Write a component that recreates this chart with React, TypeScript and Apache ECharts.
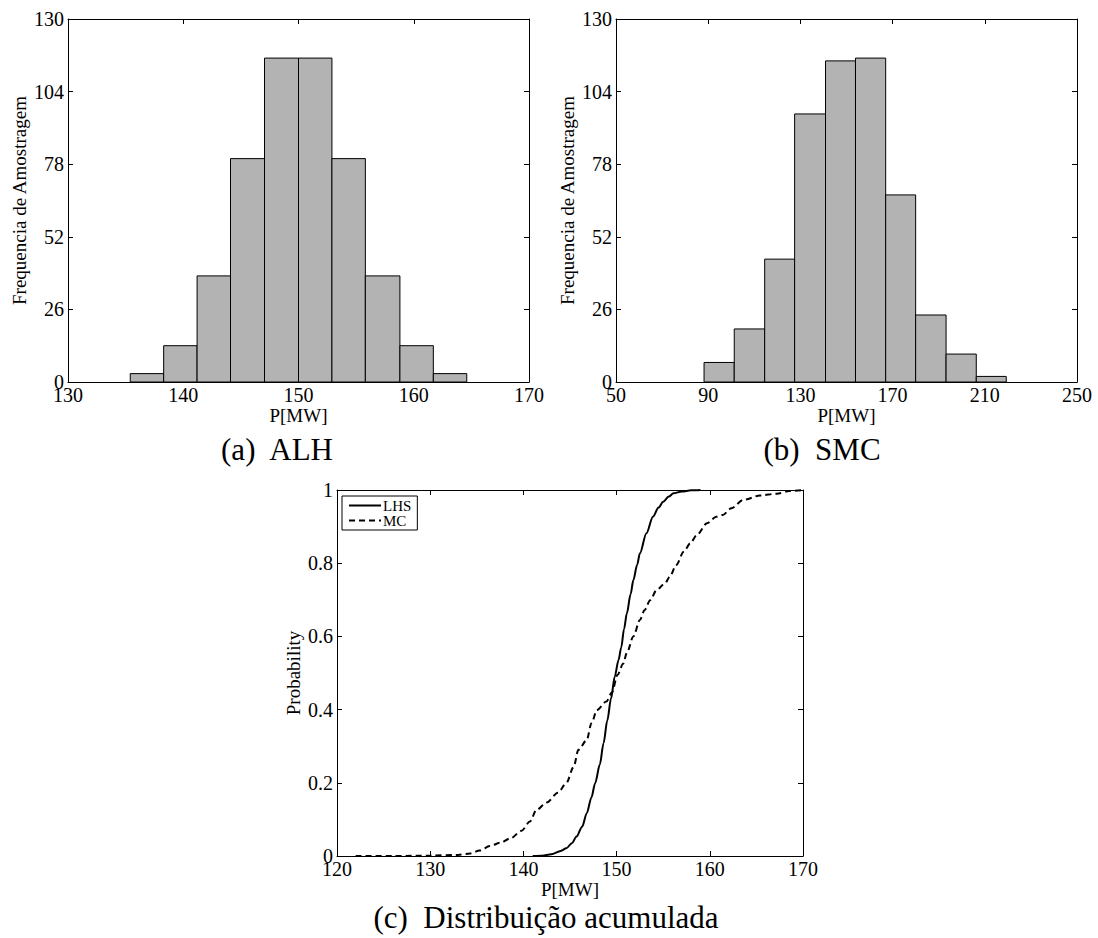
import React, { useEffect, useRef } from "react";
import * as echarts from "echarts";

// (a) ALH histogram: bin edges and counts
const alhEdges = [135.4, 138.3, 141.2, 144.1, 147.05, 150, 152.9, 155.8, 158.8, 161.7, 164.6];
const alhCounts = [3, 13, 38, 80, 116, 116, 80, 38, 13, 3];

// (b) SMC histogram: bin edges and counts
const smcEdges = [88.2, 101.3, 114.5, 127.5, 140.9, 153.9, 167.0, 180.0, 193.2, 206.3, 219.3];
const smcCounts = [7, 19, 44, 96, 115, 116, 67, 24, 10, 2];

// (c) cumulative distribution
const lhsX = [141.0, 142.0, 143.0, 144.0, 144.6, 145.2, 145.7, 146.3, 146.8, 147.3, 147.7, 148.2, 148.6, 149.0, 149.4, 149.8, 150.2, 150.5, 150.8, 151.1, 151.5, 151.8, 152.2, 152.5, 153.2, 153.9, 154.5, 155.0, 155.6, 156.1, 157.0, 158.0, 159.0];
const lhsY = [0, 0.001, 0.005, 0.014, 0.021, 0.035, 0.053, 0.08, 0.117, 0.16, 0.199, 0.25, 0.308, 0.37, 0.43, 0.49, 0.535, 0.57, 0.62, 0.663, 0.715, 0.754, 0.795, 0.827, 0.882, 0.927, 0.952, 0.968, 0.982, 0.991, 0.996, 0.999, 1.0];

const mcX = [122, 126, 130, 133, 134.3, 135.3, 136.4, 137.5, 138.6, 139.8, 140.7, 141.4, 142.5, 143.7, 144.6, 145.4, 145.9, 146.8, 147.3, 147.9, 148.9, 149.5, 150.1, 150.7, 151.1, 151.8, 152.5, 153.0, 153.6, 154.3, 155.2, 155.7, 156.4, 157.2, 157.9, 158.6, 159.7, 160.7, 161.4, 162.3, 163.6, 165.4, 167.2, 168.5, 170];
const mcY = [0, 0, 0.001, 0.003, 0.007, 0.015, 0.027, 0.036, 0.048, 0.069, 0.094, 0.126, 0.146, 0.173, 0.199, 0.244, 0.29, 0.317, 0.363, 0.399, 0.422, 0.447, 0.495, 0.525, 0.555, 0.6, 0.645, 0.672, 0.699, 0.727, 0.745, 0.763, 0.795, 0.831, 0.854, 0.877, 0.909, 0.927, 0.932, 0.95, 0.973, 0.985, 0.99, 0.997, 1.0];

const captions = ["(a)  ALH", "(b)  SMC", "(c)  Distribuição acumulada"];

const FONT = "Liberation Serif";

function binData(edges: number[], counts: number[]) {
  return counts.map((c, i) => [edges[i], edges[i + 1], c]);
}

function histRender(params: any, api: any) {
  const x0 = api.value(0);
  const x1 = api.value(1);
  const v = api.value(2);
  const p0 = api.coord([x0, v]);
  const p1 = api.coord([x1, 0]);
  return {
    type: "rect",
    shape: { x: p0[0], y: p0[1], width: p1[0] - p0[0], height: p1[1] - p0[1] },
    style: { fill: "#b3b3b3", stroke: "#000", lineWidth: 1 },
  };
}

function mainX(gridIndex: number, min: number, max: number, interval: number, name: string) {
  return {
    type: "value",
    gridIndex,
    min,
    max,
    interval,
    position: "bottom",
    name,
    nameLocation: "middle",
    nameGap: 23,
    nameTextStyle: { fontFamily: FONT, fontSize: 19, color: "#000" },
    axisLine: { show: true, onZero: false, lineStyle: { color: "#000", width: 1 } },
    axisTick: { show: true, inside: true, length: 5, lineStyle: { color: "#000" } },
    axisLabel: { show: true, fontFamily: FONT, fontSize: 20, color: "#000", margin: 3 },
    splitLine: { show: false },
  };
}

function mirrorX(gridIndex: number, min: number, max: number, interval: number) {
  return {
    type: "value",
    gridIndex,
    min,
    max,
    interval,
    position: "top",
    axisLine: { show: true, onZero: false, lineStyle: { color: "#000", width: 1 } },
    axisTick: { show: true, inside: true, length: 5, lineStyle: { color: "#000" } },
    axisLabel: { show: false },
    splitLine: { show: false },
  };
}

function mainY(gridIndex: number, min: number, max: number, interval: number, name: string, gap: number, fmt?: (v: number) => string) {
  return {
    type: "value",
    gridIndex,
    min,
    max,
    interval,
    position: "left",
    name,
    nameLocation: "middle",
    nameRotate: 90,
    nameGap: gap,
    nameTextStyle: { fontFamily: FONT, fontSize: 19, color: "#000" },
    axisLine: { show: true, onZero: false, lineStyle: { color: "#000", width: 1 } },
    axisTick: { show: true, inside: true, length: 5, lineStyle: { color: "#000" } },
    axisLabel: { show: true, fontFamily: FONT, fontSize: 20, color: "#000", margin: 4, formatter: fmt },
    splitLine: { show: false },
  };
}

function mirrorY(gridIndex: number, min: number, max: number, interval: number) {
  return {
    type: "value",
    gridIndex,
    min,
    max,
    interval,
    position: "right",
    axisLine: { show: true, onZero: false, lineStyle: { color: "#000", width: 1 } },
    axisTick: { show: true, inside: true, length: 5, lineStyle: { color: "#000" } },
    axisLabel: { show: false },
    splitLine: { show: false },
  };
}

export default function App() {
  const ref = useRef<HTMLDivElement>(null);

  useEffect(() => {
    if (!ref.current) return;
    const chart = echarts.init(ref.current, null, { renderer: "svg" });
    const option: any = {
      animation: false,
      backgroundColor: "#fff",
      grid: [
        { left: 68, top: 19, width: 461, height: 363 },
        { left: 616, top: 19, width: 461, height: 363 },
        { left: 337, top: 490, width: 466, height: 366 },
      ],
      xAxis: [
        mainX(0, 130, 170, 10, "P[MW]"),
        mainX(1, 50, 250, 40, "P[MW]"),
        mainX(2, 120, 170, 10, "P[MW]"),
        mirrorX(0, 130, 170, 10),
        mirrorX(1, 50, 250, 40),
        mirrorX(2, 120, 170, 10),
      ],
      yAxis: [
        mainY(0, 0, 130, 26, "Frequencia de Amostragem", 39),
        mainY(1, 0, 130, 26, "Frequencia de Amostragem", 39),
        mainY(2, 0, 1, 0.2, "Probability", 34, (v: number) => (v === 0 || v === 1 ? String(v) : v.toFixed(1))),
        mirrorY(0, 0, 130, 26),
        mirrorY(1, 0, 130, 26),
        mirrorY(2, 0, 1, 0.2),
      ],
      legend: {
        show: true,
        orient: "vertical",
        left: 342,
        top: 496,
        data: ["LHS", "MC"],
        itemWidth: 32,
        itemHeight: 10,
        itemGap: 0,
        padding: [2, 6, 2, 6],
        borderColor: "#000",
        borderWidth: 1,
        backgroundColor: "#fff",
        itemStyle: { opacity: 0 },
        textStyle: { fontFamily: FONT, fontSize: 15, color: "#000", padding: [0, 0, 0, -3] },
      },
      series: [
        {
          type: "custom",
          xAxisIndex: 0,
          yAxisIndex: 0,
          renderItem: histRender,
          encode: { x: [0, 1], y: 2 },
          data: binData(alhEdges, alhCounts),
        },
        {
          type: "custom",
          xAxisIndex: 1,
          yAxisIndex: 1,
          renderItem: histRender,
          encode: { x: [0, 1], y: 2 },
          data: binData(smcEdges, smcCounts),
        },
        {
          name: "LHS",
          type: "line",
          xAxisIndex: 2,
          yAxisIndex: 2,
          showSymbol: false,
          symbol: "none",
          smooth: 0.3,
          smoothMonotone: "x",
          lineStyle: { color: "#000", width: 2, type: "solid" },
          itemStyle: { color: "#000" },
          data: lhsX.map((x, i) => [x, lhsY[i]]),
        },
        {
          name: "MC",
          type: "line",
          xAxisIndex: 2,
          yAxisIndex: 2,
          showSymbol: false,
          symbol: "none",
          smooth: 0.3,
          smoothMonotone: "x",
          lineStyle: { color: "#000", width: 2, type: [6, 4] },
          itemStyle: { color: "#000" },
          data: mcX.map((x, i) => [x, mcY[i]]),
        },
      ],
      graphic: [
        { type: "text", x: 277, y: 449, style: { text: captions[0], fontFamily: FONT, fontSize: 31, fill: "#000", textAlign: "center", textVerticalAlign: "middle" } },
        { type: "text", x: 822, y: 449, style: { text: captions[1], fontFamily: FONT, fontSize: 31, fill: "#000", textAlign: "center", textVerticalAlign: "middle" } },
        { type: "text", x: 546, y: 917, style: { text: captions[2], fontFamily: FONT, fontSize: 31, fill: "#000", textAlign: "center", textVerticalAlign: "middle" } },
      ],
    };
    chart.setOption(option);
    return () => chart.dispose();
  }, []);

  return (
    <div
      ref={ref}
      style={{ position: "absolute", left: 0, top: 0, width: 1098, height: 938, background: "#fff" }}
    />
  );
}
